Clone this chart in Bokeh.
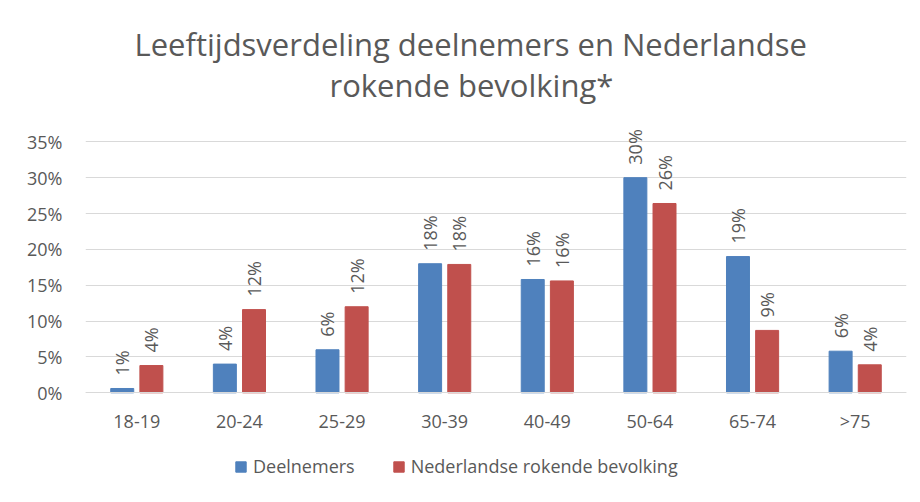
import math
from bokeh.plotting import figure
from bokeh.models import (FactorRange, Range1d, ColumnDataSource, Legend, LegendItem,
                          FixedTicker, PrintfTickFormatter, Title)
from bokeh.transform import dodge
from bokeh.core.properties import value
from bokeh.embed import file_html
from bokeh.resources import INLINE

# ---- data (percent) ----
categories = ["18-19", "20-24", "25-29", "30-39", "40-49", "50-64", "65-74", ">75"]
deelnemers = [0.6, 4.0, 6.0, 18.0, 15.8, 30.0, 19.0, 5.8]
bevolking = [3.8, 11.6, 12.0, 17.9, 15.6, 26.4, 8.7, 3.9]
series_names = ["Deelnemers", "Nederlandse rokende bevolking"]
y_ticks = [0, 5, 10, 15, 20, 25, 30, 35]
title_lines = ["Leeftijdsverdeling deelnemers en Nederlandse", "rokende bevolking*"]

colors = ["#4F81BD", "#C0504D"]
text_color = "#595959"
grid_color = "#D9D9D9"
FONT = "Open Sans"

src = ColumnDataSource(dict(
    cat=categories,
    d=deelnemers,
    b=bevolking,
    dl=[f"{round(v)}%" for v in deelnemers],
    bl=[f"{round(v)}%" for v in bevolking],
))

p = figure(width=912, height=494, x_range=FactorRange(factors=categories),
           y_range=Range1d(-13.07, 39.37), output_backend="svg", toolbar_location=None,
           title=None,
           min_border_left=85, min_border_right=6, min_border_top=110, min_border_bottom=8)

# two title lines (added nearest-first), positioned so each is centred near x=470
title_offsets = [49, 244]
title_standoffs = [-16, 10]
for line, offs, so in reversed(list(zip(title_lines, title_offsets, title_standoffs))):
    t = Title(text=line, align="left", offset=offs, text_font=FONT,
              text_font_size="31px", text_font_style="normal", text_color=text_color,
              standoff=so)
    p.add_layout(t, "above")

off = 0.142
bw = 0.224
r1 = p.vbar(x=dodge("cat", -off, range=p.x_range), top="d", width=bw, source=src,
            fill_color=colors[0], line_color=colors[0])
r2 = p.vbar(x=dodge("cat", off, range=p.x_range), top="b", width=bw, source=src,
            fill_color=colors[1], line_color=colors[1])

for col, lab, o in (("d", "dl", -off), ("b", "bl", off)):
    p.text(x=dodge("cat", o, range=p.x_range), y=col, text=lab, angle=math.pi / 2,
           text_align="left", text_baseline="middle", y_offset=-13,
           text_font=value(FONT), text_font_size="18px", text_color=text_color, source=src)

# axes
p.yaxis.ticker = FixedTicker(ticks=y_ticks)
p.yaxis.formatter = PrintfTickFormatter(format="%d%%")
p.yaxis.axis_line_color = None
p.yaxis.major_tick_line_color = None
p.yaxis.minor_tick_line_color = None
p.yaxis.major_label_standoff = 17
for ax in (p.xaxis[0], p.yaxis[0]):
    ax.major_label_text_font = FONT
    ax.major_label_text_font_size = "18px"
    ax.major_label_text_color = text_color
p.xaxis.fixed_location = 0
p.xaxis.axis_line_color = grid_color
p.xaxis.major_tick_line_color = None
p.xaxis.minor_tick_line_color = None
p.xaxis.major_label_standoff = 10

p.xgrid.grid_line_color = None
p.ygrid.grid_line_color = grid_color
p.ygrid.ticker = FixedTicker(ticks=y_ticks)
p.outline_line_color = None

legend = Legend(items=[LegendItem(label=series_names[0], renderers=[r1]),
                       LegendItem(label=series_names[1], renderers=[r2])],
                orientation="horizontal", location=(149, 8))
legend.border_line_color = None
legend.background_fill_alpha = 0
legend.label_text_font = FONT
legend.label_text_font_size = "18px"
legend.label_text_color = text_color
legend.glyph_width = 13
legend.glyph_height = 13
legend.spacing = 37
legend.padding = 0
legend.margin = 0
legend.label_standoff = 6
p.add_layout(legend)

open("out.html", "w").write(file_html(p, INLINE))
